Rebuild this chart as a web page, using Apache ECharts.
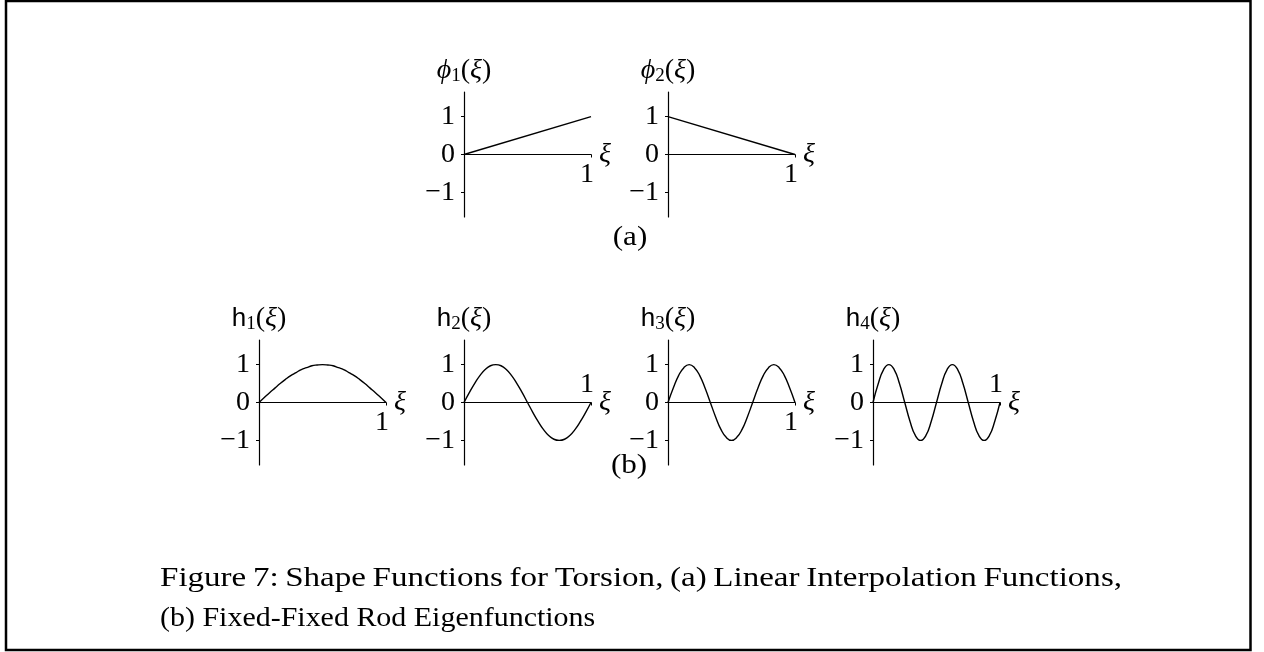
<!DOCTYPE html>
<html>
<head>
<meta charset="utf-8">
<script src="https://cdn.jsdelivr.net/npm/echarts@6/dist/echarts.min.js"></script>
<style>
  html, body { margin: 0; padding: 0; background: #fff; }
  #chart { width: 1264px; height: 652px; }
</style>
</head>
<body>
<div id="chart"></div>
<script>
// Linear interpolation functions on [0, 1]
const phiX = [0, 1];
const phi1 = [0, 1];
const phi2 = [1, 0];

// Sample positions along the rod and the fixed-fixed eigenfunctions at them
const xi = [0, 0.0417, 0.0833, 0.125, 0.1667, 0.2083, 0.25, 0.2917, 0.3333, 0.375, 0.4167, 0.4583, 0.5,
            0.5417, 0.5833, 0.625, 0.6667, 0.7083, 0.75, 0.7917, 0.8333, 0.875, 0.9167, 0.9583, 1];
const h1 = [0, 0.13, 0.26, 0.38, 0.5, 0.61, 0.71, 0.79, 0.87, 0.92, 0.97, 0.99, 1,
            0.99, 0.97, 0.92, 0.87, 0.79, 0.71, 0.61, 0.5, 0.38, 0.26, 0.13, 0];
const h2 = [0, 0.26, 0.5, 0.71, 0.87, 0.97, 1, 0.97, 0.87, 0.71, 0.5, 0.26, 0,
            -0.26, -0.5, -0.71, -0.87, -0.97, -1, -0.97, -0.87, -0.71, -0.5, -0.26, 0];
const h3 = [0, 0.38, 0.71, 0.92, 1, 0.92, 0.71, 0.38, 0, -0.38, -0.71, -0.92, -1,
            -0.92, -0.71, -0.38, 0, 0.38, 0.71, 0.92, 1, 0.92, 0.71, 0.38, 0];
const h4 = [0, 0.5, 0.87, 1, 0.87, 0.5, 0, -0.5, -0.87, -1, -0.87, -0.5, 0,
            0.5, 0.87, 1, 0.87, 0.5, 0, -0.5, -0.87, -1, -0.87, -0.5, 0];

// Axis ticks and labels
const yTicks = [-1, 0, 1];
const xTicks = [1];
const yRange = [-1.65, 1.65];

const captionLines = [
  'Figure 7:  Shape Functions for Torsion, (a) Linear Interpolation Functions,',
  '(b) Fixed-Fixed Rod Eigenfunctions'
];

const SERIF = '"Liberation Serif", "DejaVu Serif", serif';
const SANS = '"Liberation Sans", "DejaVu Sans", sans-serif';
const TEXT_STRETCH = 1.11;     // widen the serif face a little
const GRID_W = 127, GRID_H = 125;

const pairs = (xs, ys) => xs.map((x, i) => [x, ys[i]]);

// name: rich-text axis title; above: put the "1" above the ξ axis
const panels = [
  { left: 464, top: 92,  name: '{it|ϕ}{sub|1}{rm|(}{it|ξ}{rm|)}', data: pairs(phiX, phi1), smooth: false, above: false },
  { left: 668, top: 92,  name: '{it|ϕ}{sub|2}{rm|(}{it|ξ}{rm|)}', data: pairs(phiX, phi2), smooth: false, above: false },
  { left: 259, top: 340, name: '{sf|h}{sub|1}{rm|(}{it|ξ}{rm|)}', data: pairs(xi, h1), smooth: true, above: false },
  { left: 464, top: 340, name: '{sf|h}{sub|2}{rm|(}{it|ξ}{rm|)}', data: pairs(xi, h2), smooth: true, above: true },
  { left: 668, top: 340, name: '{sf|h}{sub|3}{rm|(}{it|ξ}{rm|)}', data: pairs(xi, h3), smooth: true, above: false },
  { left: 873, top: 340, name: '{sf|h}{sub|4}{rm|(}{it|ξ}{rm|)}', data: pairs(xi, h4), smooth: true, above: true }
];

const rich = {
  it:  { fontFamily: SERIF, fontStyle: 'italic', fontSize: 28, color: '#000', lineHeight: 30, verticalAlign: 'middle' },
  rm:  { fontFamily: SERIF, fontSize: 28, color: '#000', lineHeight: 30, verticalAlign: 'middle' },
  sf:  { fontFamily: SANS, fontSize: 26, color: '#000', lineHeight: 30, verticalAlign: 'middle' },
  sub: { fontFamily: SERIF, fontSize: 19, color: '#000', lineHeight: 18, verticalAlign: 'bottom' }
};

const axisLineStyle = { color: '#000', width: 1.2 };

// Caption line 1 is set justified between the text margins
function justifiedWords(text, font, width) {
  const ctx = document.createElement('canvas').getContext('2d');
  ctx.font = font;
  const words = text.split(/\s+/);
  const widths = words.map(w => ctx.measureText(w).width);
  const gap = (width - widths.reduce((a, b) => a + b, 0)) / (words.length - 1);
  let x = 0;
  return words.map((w, i) => {
    const el = { type: 'text', x: x, y: 0, style: { text: w, font: font, fill: '#000', textAlign: 'left', textVerticalAlign: 'middle' } };
    x += widths[i] + gap;
    return el;
  });
}

const captionFont = '28px ' + SERIF;
const captionLeft = 160, captionRight = 1122;
const CAPTION_STRETCH = [1.18, 1.07];

const option = {
  animation: false,
  backgroundColor: '#fff',
  grid: panels.map(p => ({ left: p.left, top: p.top, width: GRID_W, height: GRID_H, containLabel: false })),
  xAxis: panels.map((p, i) => ({
    type: 'value', gridIndex: i, min: 0, max: 1,
    position: 'bottom', offset: -GRID_H / 2,
    axisLine: { show: true, onZero: false, lineStyle: axisLineStyle },
    splitLine: { show: false },
    axisTick: { show: true, customValues: xTicks, length: 3, lineStyle: { color: '#000', width: 1 } },
    axisLabel: {
      show: true, customValues: xTicks, inside: p.above, margin: p.above ? 4 : 6,
      fontFamily: SERIF, fontSize: 28, color: '#000', padding: [0, 8, 0, 0]
    },
    name: 'ξ', nameLocation: 'end', nameGap: 8,
    nameTextStyle: { fontFamily: SERIF, fontStyle: 'italic', fontSize: 28, color: '#000' }
  })),
  yAxis: panels.map((p, i) => ({
    type: 'value', gridIndex: i, min: yRange[0], max: yRange[1],
    axisLine: { show: true, onZero: false, lineStyle: axisLineStyle },
    splitLine: { show: false },
    axisTick: { show: true, customValues: yTicks, length: 3, lineStyle: { color: '#000', width: 1 } },
    axisLabel: {
      show: true, customValues: yTicks, margin: 9,
      fontFamily: SERIF, fontSize: 28, color: '#000',
      formatter: v => (v < 0 ? '\u2212' + Math.abs(v) : String(v))
    },
    name: p.name, nameLocation: 'end', nameGap: 6,
    nameTextStyle: { rich: rich }
  })),
  series: panels.map((p, i) => ({
    type: 'line', xAxisIndex: i, yAxisIndex: i,
    data: p.data, smooth: p.smooth, showSymbol: false, silent: true, clip: false,
    lineStyle: { color: '#000', width: 1.4 }
  })),
  graphic: [
    { type: 'rect', shape: { x: 6, y: 1, width: 1244.5, height: 649 },
      style: { fill: 'none', stroke: '#000', lineWidth: 2.5 }, silent: true },
    { type: 'text', x: 630, y: 238, scaleX: TEXT_STRETCH,
      style: { text: '(a)', font: '28px ' + SERIF, fill: '#000', textAlign: 'center', textVerticalAlign: 'middle' } },
    { type: 'text', x: 629, y: 466, scaleX: TEXT_STRETCH,
      style: { text: '(b)', font: '28px ' + SERIF, fill: '#000', textAlign: 'center', textVerticalAlign: 'middle' } },
    { type: 'group', x: captionLeft, y: 579, scaleX: CAPTION_STRETCH[0],
      children: justifiedWords(captionLines[0], captionFont, (captionRight - captionLeft) / CAPTION_STRETCH[0]) },
    { type: 'text', x: captionLeft, y: 619, scaleX: CAPTION_STRETCH[1],
      style: { text: captionLines[1], font: captionFont, fill: '#000', textAlign: 'left', textVerticalAlign: 'middle' } }
  ]
};

const chart = echarts.init(document.getElementById('chart'), null, { renderer: 'canvas' });
chart.setOption(option);
</script>
</body>
</html>
